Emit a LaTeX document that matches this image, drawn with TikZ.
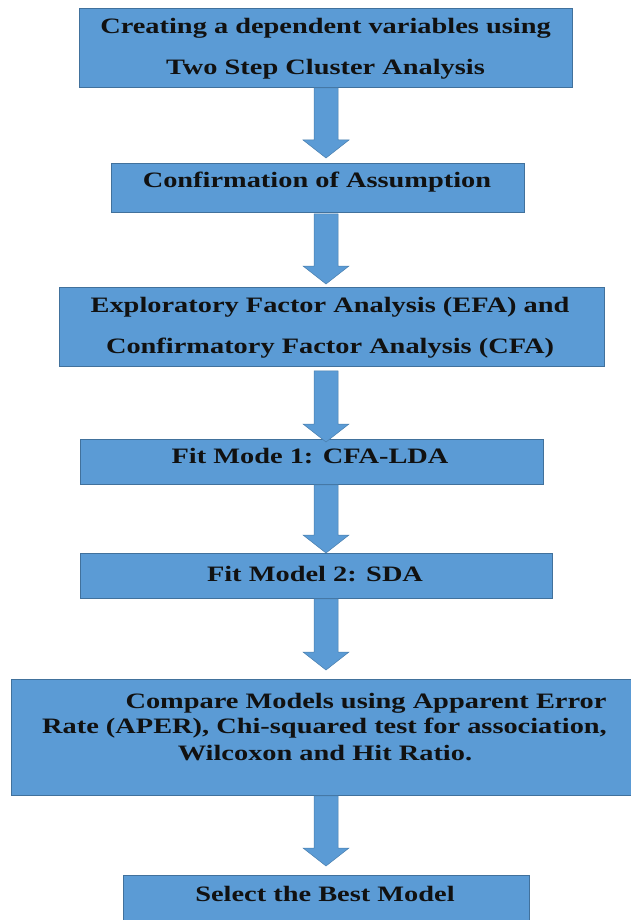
\documentclass[tikz,border=0pt]{standalone}
\usepackage{fontspec}
\setmainfont{Liberation Serif}[FakeStretch=1.29]
\usetikzlibrary{calc}
\definecolor{boxfill}{HTML}{5B9BD5}
\definecolor{boxedge}{HTML}{41719C}
\definecolor{txtcol}{HTML}{111111}
\tikzset{
  flowbox/.style={draw=boxedge, fill=boxfill, line width=0.9pt, rectangle, inner sep=0pt, anchor=north west},
  txt/.style={font=\fontsize{22}{26}\selectfont\bfseries, text=txtcol, inner sep=0pt, anchor=base},
  blockarrow/.style={fill=boxfill, draw=boxedge!70!boxfill, line width=0.5pt, line join=miter}
}
% #1 from node, #2 to node, #3 start offset below #1, #4 gap above #2
\newcommand\flowarrow[4]{%
  \path[blockarrow] let \p1=(#1.south -| ax), \p2=(#2.north -| ax) in
    (\x1-12pt,\y1-#3) -- (\x1-12pt,\y2+#4+18pt) -- (\x1-23pt,\y2+#4+18pt) --
    (\x1,\y2+#4) -- (\x1+23pt,\y2+#4+18pt) -- (\x1+12pt,\y2+#4+18pt) --
    (\x1+12pt,\y1-#3) -- cycle;}
\begin{document}
\begin{tikzpicture}[x=1pt, y=-1pt]
\useasboundingbox (0,0) rectangle (631,920);
\coordinate (ax) at (326,0);
% boxes
\node[flowbox, minimum width=493pt, minimum height=79pt] (b1) at (79,8) {};
\node[flowbox, minimum width=413pt, minimum height=49pt] (b2) at (111,163) {};
\node[flowbox, minimum width=545pt, minimum height=79pt] (b3) at (59,287) {};
\node[flowbox, minimum width=463pt, minimum height=45pt] (b4) at (80,439) {};
\node[flowbox, minimum width=472pt, minimum height=45pt] (b5) at (80,553) {};
\node[flowbox, minimum width=640pt, minimum height=116pt] (b6) at (11,679) {};
\node[flowbox, minimum width=406pt, minimum height=70pt] (b7) at (123,875) {};
% texts
\node[txt] (t1a) at (325.5,34) {Creating a dependent variables using};
\node[txt] (t1b) at (325.5,75) {Two Step Cluster Analysis};
\node[txt] (t2) at (317,187) {Confirmation of Assumption};
\node[txt] (t3a) at (330,312) {Exploratory Factor Analysis (EFA) and};
\node[txt] (t3b) at (330,353) {Confirmatory Factor Analysis (CFA)};
\node[txt] (t4) at (310,463) {Fit Mode 1: CFA-LDA};
\node[txt] (t5) at (315,581) {Fit Model 2: SDA};
\node[txt] (t6a) at (366,708) {Compare Models using Apparent Error};
\node[txt] (t6b) at (324.5,733) {Rate (APER), Chi-squared test for association,};
\node[txt] (t6c) at (325,760) {Wilcoxon and Hit Ratio.};
\node[txt] (t7) at (325,901) {Select the Best Model};
% arrows
\flowarrow{b1}{b2}{0pt}{5pt}
\flowarrow{b2}{b3}{1pt}{3pt}
\flowarrow{b3}{b4}{4pt}{-3pt}
\flowarrow{b4}{b5}{0pt}{0pt}
\flowarrow{b5}{b6}{0pt}{9pt}
\flowarrow{b6}{b7}{0pt}{9pt}
\end{tikzpicture}
\end{document}
